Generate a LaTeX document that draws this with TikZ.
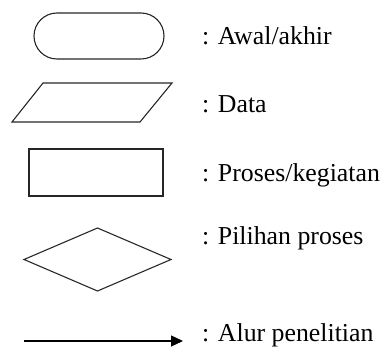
\documentclass[tikz,border=0pt]{standalone}
\usepackage{fontspec}
\setmainfont{Liberation Serif}
\usetikzlibrary{shapes.geometric,arrows.meta}
\begin{document}
\begin{tikzpicture}[x=1pt,y=-1pt,
  symb/.style={draw=black!85,line width=1.1pt,inner sep=0pt,outer sep=0pt},
  legendtext/.style={anchor=base west,inner sep=0pt,font=\fontsize{25.8}{30}\selectfont},
  flowline/.style={line width=1.3pt,-{Triangle[length=12pt,width=11pt]}}]
  \useasboundingbox (0,0) rectangle (380,347);

  % start / end terminator
  \node[symb,rectangle,rounded corners=23pt,minimum width=130pt,minimum height=46pt] (term) at (99,36) {};
  % data (parallelogram)
  \draw[symb,line join=miter] (43,83) coordinate (dtl) -- (172,83) coordinate (dtr)
        -- (140,122) coordinate (dbr) -- (12,122) coordinate (dbl) -- cycle;
  % process box
  \node[symb,rectangle,minimum width=134pt,minimum height=47pt] (proc) at (96,172.5) {};
  % decision
  \node[symb,diamond,minimum width=147pt,minimum height=63pt] (dec) at (97.5,259.5) {};
  % flow arrow
  \coordinate (fa) at (24,341);
  \coordinate (fb) at (183,341);
  \draw[flowline] (fa) -- (fb);

  % labels
  \node[legendtext] (t1) at (202,45) {: Awal/akhir};
  \node[legendtext] (t2) at (202,113) {: Data};
  \node[legendtext] (t3) at (202,182) {: Proses/kegiatan};
  \node[legendtext] (t4) at (202,245) {: Pilihan proses};
  \node[legendtext] (t5) at (202,341) {: Alur penelitian};
\end{tikzpicture}
\end{document}
